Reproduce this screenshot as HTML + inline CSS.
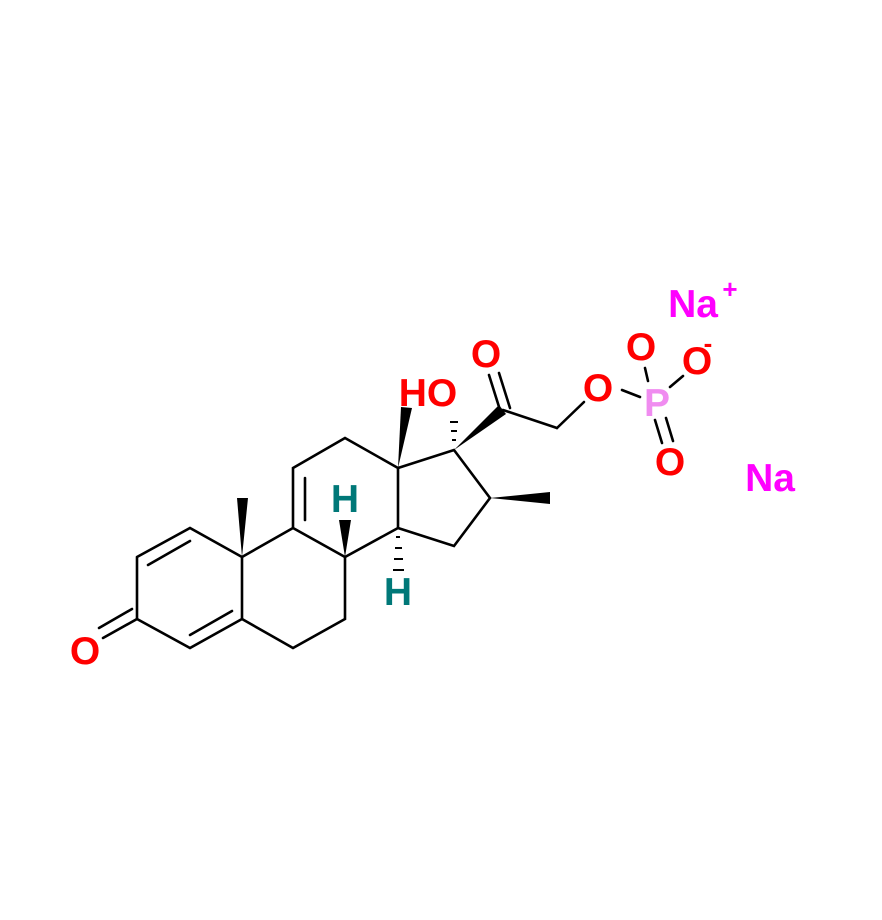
<html><body style="margin:0;background:#fff">
<svg width="882" height="920" xmlns="http://www.w3.org/2000/svg">
<g stroke="#000" stroke-width="2.6" fill="none" stroke-linecap="round">
<polyline points="137,557 190,528 242,557 242,619 190,648 137,619 137,557"/>
<line x1="148" y1="565" x2="190" y2="541"/>
<line x1="190" y1="635" x2="232" y2="611"/>
<line x1="137" y1="619" x2="103" y2="638"/>
<line x1="132" y1="609" x2="99" y2="628"/>
<polyline points="242,557 293,528 293,468 345,438 398,468 398,528 345,557 293,528"/>
<line x1="305" y1="478" x2="305" y2="520"/>
<polyline points="242,619 293,648 345,619 345,557"/>
<polyline points="398,468 454,450 490,498 454,546 398,528"/>
<line x1="503" y1="410" x2="557" y2="428"/>
<line x1="557" y1="428" x2="584" y2="402"/>
<line x1="500" y1="410" x2="489" y2="375"/>
<line x1="510" y1="408" x2="499" y2="373"/>
<line x1="622" y1="390" x2="640" y2="397"/>
<line x1="648" y1="381" x2="645" y2="368"/>
<line x1="670" y1="387" x2="683" y2="376"/>
<line x1="655" y1="420" x2="662" y2="443"/>
<line x1="666" y1="418" x2="673" y2="441"/>
</g>
<g fill="#000">
<polygon points="242,557 237,498 248,498"/>
<polygon points="398,468 401,407 412,408"/>
<polygon points="345,557 339,520 351,520"/>
<polygon points="454,450 499,405 506,414"/>
<polygon points="490,498 550,492 550,504"/>
<g stroke="#000" stroke-width="2">
<line x1="396" y1="537" x2="400" y2="537"/><line x1="395" y1="548" x2="402" y2="548"/><line x1="394" y1="559" x2="403" y2="559"/><line x1="393" y1="570" x2="404" y2="570"/>
<line x1="452" y1="440" x2="456" y2="440"/><line x1="451" y1="431" x2="457" y2="431"/><line x1="450" y1="422" x2="458" y2="422"/>
</g>
</g>
<g font-family="Liberation Sans, sans-serif" font-weight="bold" font-size="39" text-anchor="middle">
<text x="85" y="664" fill="#f00">O</text>
<text x="428" y="406" fill="#f00">HO</text>
<text x="486" y="367" fill="#f00">O</text>
<text x="598" y="401" fill="#f00">O</text>
<text x="641" y="360" fill="#f00">O</text>
<text x="697" y="374" fill="#f00">O</text>
<text x="708" y="352" fill="#f00" font-size="26">-</text>
<text x="670" y="475" fill="#f00">O</text>
<text x="657" y="416" fill="#f08cf0">P</text>
<text x="345" y="512" fill="#007878">H</text>
<text x="398" y="605" fill="#007878">H</text>
<text x="693" y="317" fill="#f0f">Na</text>
<text x="730" y="298" fill="#f0f" font-size="26">+</text>
<text x="770" y="491" fill="#f0f">Na</text>
</g>
</svg>
</body></html>
